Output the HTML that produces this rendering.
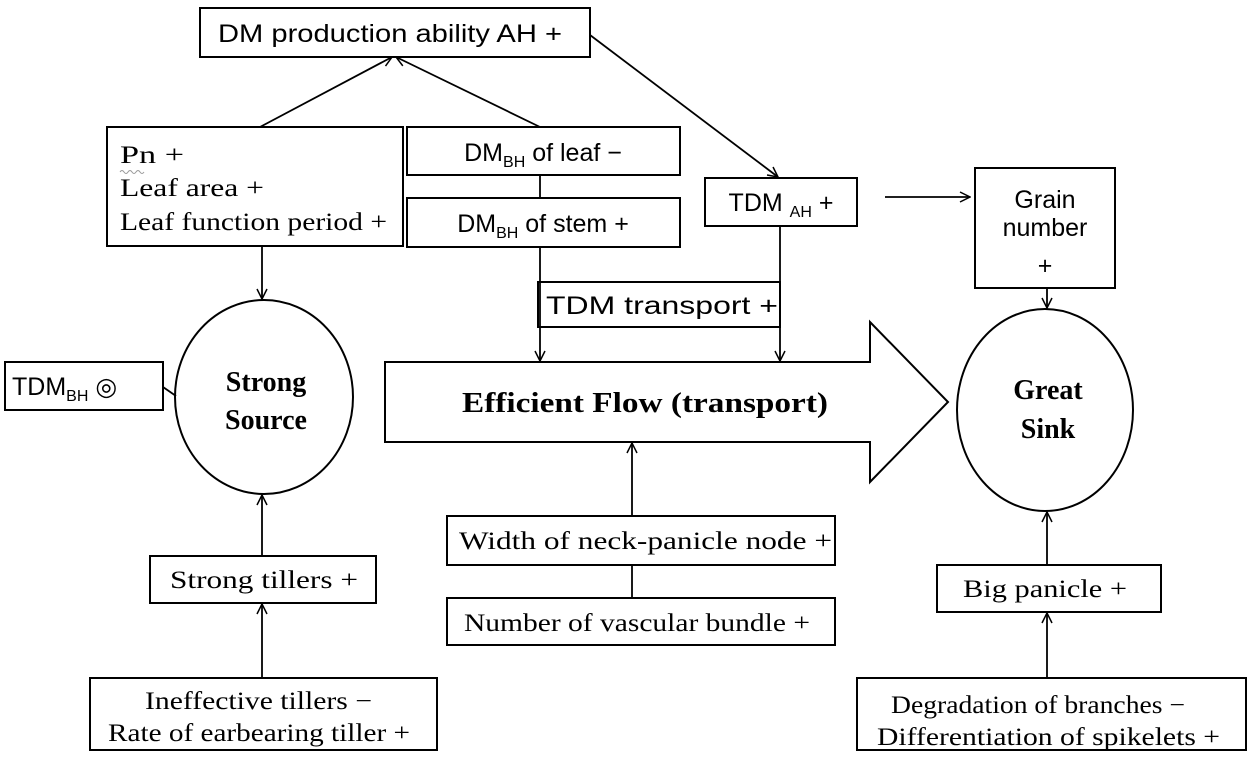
<!DOCTYPE html>
<html><head><meta charset="utf-8"><style>
html,body{margin:0;padding:0;background:#fff}
svg{display:block}
.s{font-family:"Liberation Sans",sans-serif;font-size:25px}
.r{font-family:"Liberation Serif",serif;font-size:25px}
.b{font-family:"Liberation Serif",serif;font-size:28px;font-weight:bold}
</style></head><body>
<svg width="1250" height="770" viewBox="0 0 1250 770" xmlns="http://www.w3.org/2000/svg">
<defs>
<marker id="a" markerWidth="12" markerHeight="12" refX="11" refY="6" orient="auto" markerUnits="userSpaceOnUse">
<path d="M1,1 L11,6 L1,11" fill="none" stroke="#000" stroke-width="1.5"/>
</marker>
</defs>
<g fill="none" stroke="#000" stroke-width="2">
<rect x="200" y="8" width="390" height="49"/>
<rect x="107" y="127" width="296" height="119"/>
<rect x="407" y="127" width="273" height="48"/>
<rect x="407" y="198" width="273" height="49"/>
<rect x="705" y="178" width="152" height="48"/>
<rect x="975" y="168" width="140" height="120"/>
<rect x="538" y="282" width="242" height="45"/>
<rect x="5" y="362" width="158" height="48"/>
<ellipse cx="264" cy="397" rx="89" ry="97"/>
<ellipse cx="1045" cy="410" rx="88" ry="101"/>
<path d="M385,362 L870,362 L870,322 L948,402 L870,482 L870,442 L385,442 Z"/>
<rect x="447" y="516" width="388" height="49"/>
<rect x="447" y="598" width="388" height="47"/>
<rect x="150" y="556" width="226" height="47"/>
<rect x="90" y="678" width="347" height="72"/>
<rect x="937" y="565" width="224" height="47"/>
<rect x="857" y="678" width="389" height="72"/>
</g>
<g fill="none" stroke="#000" stroke-width="1.8">
<line x1="260" y1="127" x2="392" y2="57" marker-end="url(#a)"/>
<line x1="540" y1="127" x2="396" y2="57" marker-end="url(#a)"/>
<line x1="590" y1="35" x2="778" y2="177" marker-end="url(#a)"/>
<line x1="540" y1="175" x2="540" y2="198"/>
<line x1="540" y1="247" x2="540" y2="361" marker-end="url(#a)"/>
<line x1="780" y1="226" x2="780" y2="361" marker-end="url(#a)"/>
<line x1="885" y1="197" x2="970" y2="197" marker-end="url(#a)"/>
<line x1="1047" y1="288" x2="1047" y2="308" marker-end="url(#a)"/>
<line x1="262" y1="246" x2="262" y2="299" marker-end="url(#a)"/>
<line x1="163" y1="387" x2="176" y2="396"/>
<line x1="262" y1="556" x2="262" y2="495" marker-end="url(#a)"/>
<line x1="262" y1="678" x2="262" y2="604" marker-end="url(#a)"/>
<line x1="632" y1="516" x2="632" y2="443" marker-end="url(#a)"/>
<line x1="632" y1="565" x2="632" y2="598"/>
<line x1="1047" y1="565" x2="1047" y2="512" marker-end="url(#a)"/>
<line x1="1047" y1="678" x2="1047" y2="613" marker-end="url(#a)"/>
</g>
<g fill="#000">
<text class="s" x="218" y="42" textLength="344" lengthAdjust="spacingAndGlyphs">DM production ability AH +</text>
<text class="r" x="120" y="163" textLength="64" lengthAdjust="spacingAndGlyphs">Pn +</text>
<path d="M120,172 q2,-3 4,0 t4,0 t4,0 t4,0 t4,0 t4,0" fill="none" stroke="#999" stroke-width="1"/>
<text class="r" x="120" y="196" textLength="144" lengthAdjust="spacingAndGlyphs">Leaf  area +</text>
<text class="r" x="120" y="230" textLength="267" lengthAdjust="spacingAndGlyphs">Leaf  function period +</text>
<text class="s" x="543" y="161" text-anchor="middle">DM<tspan font-size="16" dy="6">BH</tspan><tspan dy="-6"> of leaf −</tspan></text>
<text class="s" x="543" y="232" text-anchor="middle">DM<tspan font-size="16" dy="6">BH</tspan><tspan dy="-6"> of stem +</tspan></text>
<text class="s" x="781" y="211" text-anchor="middle">TDM <tspan font-size="16" dy="6">AH</tspan><tspan dy="-6">  +</tspan></text>
<text class="s" x="1045" y="208" text-anchor="middle">Grain</text>
<text class="s" x="1045" y="236" text-anchor="middle">number</text>
<text class="s" x="1045" y="274" text-anchor="middle">+</text>
<text class="s" x="546" y="314" textLength="232" lengthAdjust="spacingAndGlyphs">TDM transport +</text>
<text class="s" x="12" y="395">TDM<tspan font-size="16" dy="6">BH</tspan><tspan dy="-6"> ◎</tspan></text>
<text class="b" x="266" y="391" text-anchor="middle">Strong</text>
<text class="b" x="266" y="429" text-anchor="middle">Source</text>
<text class="b" x="1048" y="399" text-anchor="middle">Great</text>
<text class="b" x="1048" y="438" text-anchor="middle">Sink</text>
<text class="b" x="462" y="412" textLength="366" lengthAdjust="spacingAndGlyphs">Efficient  Flow (transport)</text>
<text class="r" x="459" y="549" textLength="373" lengthAdjust="spacingAndGlyphs">Width of neck-panicle node +</text>
<text class="r" x="464" y="631" textLength="346" lengthAdjust="spacingAndGlyphs">Number of vascular bundle +</text>
<text class="r" x="170" y="588" textLength="188" lengthAdjust="spacingAndGlyphs">Strong tillers +</text>
<text class="r" x="145" y="709" textLength="227" lengthAdjust="spacingAndGlyphs">Ineffective tillers −</text>
<text class="r" x="108" y="741" textLength="302" lengthAdjust="spacingAndGlyphs">Rate of earbearing tiller +</text>
<text class="r" x="963" y="597" textLength="164" lengthAdjust="spacingAndGlyphs">Big panicle +</text>
<text class="r" x="891" y="713" textLength="294" lengthAdjust="spacingAndGlyphs">Degradation of branches −</text>
<text class="r" x="877" y="745" textLength="343" lengthAdjust="spacingAndGlyphs">Differentiation of spikelets +</text>
</g>
</svg>
</body></html>
